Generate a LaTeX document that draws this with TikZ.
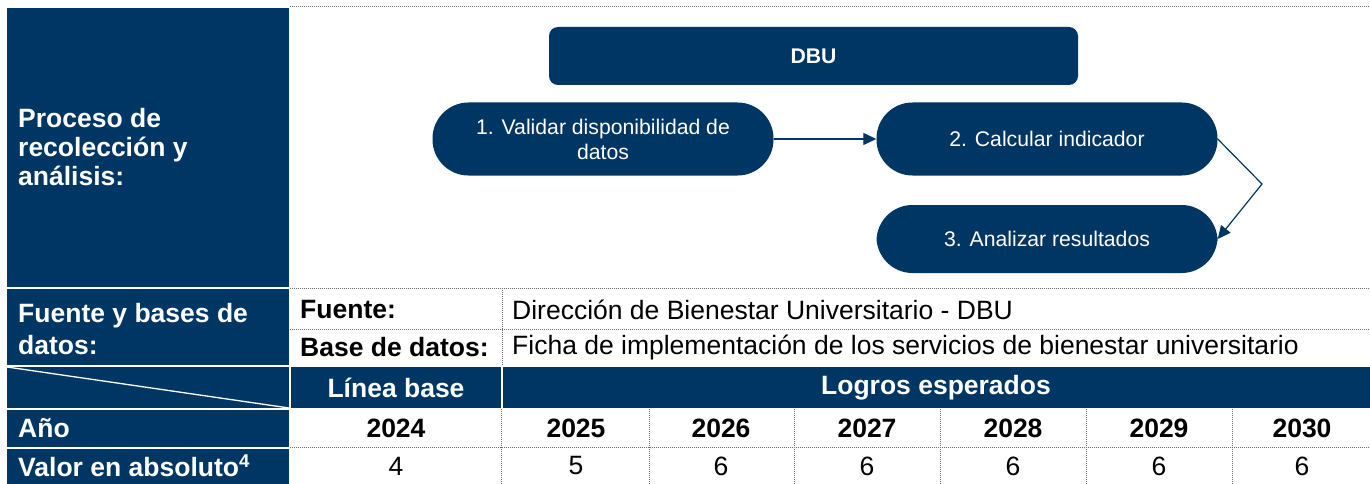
\documentclass[tikz,border=0pt]{standalone}
\usepackage{fontspec}
\setmainfont{Liberation Sans}
\usetikzlibrary{arrows.meta}
\definecolor{navy}{RGB}{0,54,100}
\definecolor{dotgray}{RGB}{110,110,110}
\newcommand\tbl{\fontsize{26.5}{32}\selectfont}
\newcommand\tblp{\fontsize{26.5}{29}\selectfont}
\newcommand\dgm{\fontsize{21.2}{25}\selectfont}
\begin{document}
\begin{tikzpicture}[x=1pt,y=-1pt,
  cellfill/.style={fill=navy},
  hdr/.style={text=white,font=\tbl\bfseries,inner sep=0pt},
  lbl/.style={anchor=west,align=left,text=white,font=\tbl\bfseries,inner sep=0pt},
  body/.style={font=\tbl,inner sep=0pt,text=black},
  bodyb/.style={font=\tbl\bfseries,inner sep=0pt,text=black},
  dotline/.style={dotgray,line width=0.9pt,dash pattern=on 1pt off 1pt},
  proc/.style={fill=navy,text=white,font=\dgm,rounded corners=36pt,minimum width=341pt,minimum height=73pt,align=center,inner sep=0pt},
  conn/.style={navy,line width=1.2pt,-{Triangle[length=13pt,width=12pt]}}
]
\useasboundingbox (0,0) rectangle (1370,484);
\fill[white] (0,0) rectangle (1370,484);

% ---- left column blocks
\fill[cellfill] (7,8) rectangle (289,287);
\fill[cellfill] (7,289) rectangle (289,365);
\fill[cellfill] (7,367) rectangle (289,408);
\fill[cellfill] (7,410) rectangle (289,447);
\fill[cellfill] (7,449) rectangle (289,484);
\draw[white,line width=1.3pt] (7,367) -- (289,408);

% ---- header row
\fill[cellfill] (291,367) rectangle (501,408);
\fill[cellfill] (503,367) rectangle (1370,408);

% ---- dotted grid lines
\draw[dotline] (290,6) -- (1370,6);
\draw[dotline] (290,288) -- (1370,288);
\draw[dotline] (290,329) -- (1370,329);
\draw[dotline] (502,288) -- (502,365);
\draw[dotline] (290,447.5) -- (1370,447.5);
\foreach \xx in {501,649,794,940,1086,1232}{
  \draw[dotline] (\xx,409) -- (\xx,484);
}

% ---- left labels
\node[lbl,font=\tblp\bfseries] (lproc) at (18,147) {Proceso de\\recolección y\\análisis:};
\node[lbl] (lfuente) at (18,329) {Fuente y bases de\\datos:};
\node[lbl] (lano) at (18,428) {Año};
\node[lbl] (lvalor) at (18,466) {Valor en absoluto\textsuperscript{4}};

% ---- source rows
\node[bodyb,anchor=west] (fk) at (300,310) {Fuente:};
\node[bodyb,anchor=west] (bk) at (300,347) {Base de datos:};
\node[body,anchor=west] (fv) at (512,310) {Dirección de Bienestar Universitario - DBU};
\node[body,anchor=west] (bv) at (512,347) {Ficha de implementación de los servicios de bienestar universitario};

% ---- header texts
\node[hdr] (hlb) at (396,388) {Línea base};
\node[hdr] (hle) at (936,388) {Logros esperados};

% ---- years and values
\node[bodyb] (y0) at (396,428) {2024};
\node[body]  (v0) at (396,466) {4};
\node[bodyb] (y1) at (576,428) {2025};
\node[body]  (v1) at (576,466) {5};
\node[bodyb] (y2) at (721,428) {2026};
\node[body]  (v2) at (721,466) {6};
\node[bodyb] (y3) at (867,428) {2027};
\node[body]  (v3) at (867,466) {6};
\node[bodyb] (y4) at (1013,428) {2028};
\node[body]  (v4) at (1013,466) {6};
\node[bodyb] (y5) at (1159,428) {2029};
\node[body]  (v5) at (1159,466) {6};
\node[bodyb] (y6) at (1302,428) {2030};
\node[body]  (v6) at (1302,466) {6};

% ---- process diagram
\node[fill=navy,rounded corners=9pt,minimum width=529pt,minimum height=58pt,inner sep=0pt,text=white,font=\dgm\bfseries] (dbu) at (813.5,56) {DBU};
\node[proc] (p1) at (603,139) {1. Validar disponibilidad de\\datos};
\node[proc] (p2) at (1047,139) {2. Calcular indicador};
\node[proc,minimum height=68pt] (p3) at (1047,239) {3. Analizar resultados};
\coordinate (bend) at (1262,184);
\draw[conn] (p1.east) -- (p2.west);
\draw[conn] (p2.east) -- (bend) -- (p3.east);
\end{tikzpicture}
\end{document}
